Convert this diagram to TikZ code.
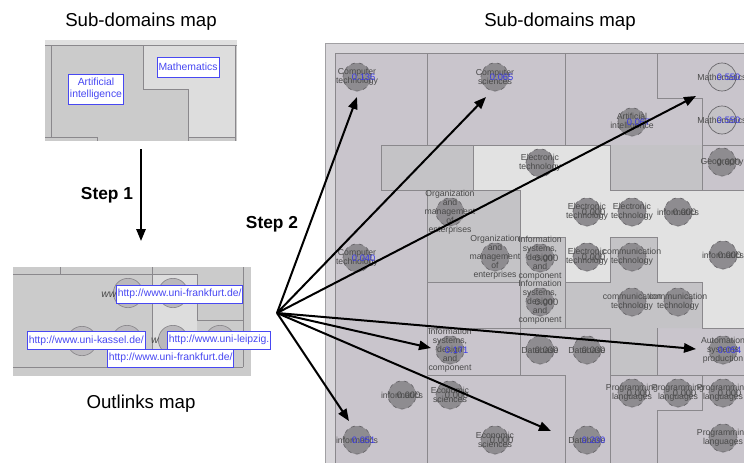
\documentclass[tikz,border=0pt]{standalone}
\usepackage{fontspec}
\setmainfont{Liberation Sans}
\usetikzlibrary{arrows.meta}
\definecolor{mapbg}{HTML}{C9C5CC}
\definecolor{mapframe}{HTML}{D8D6DA}
\definecolor{maplight}{HTML}{E2E2E2}
\definecolor{mapmed}{HTML}{C4C3C6}
\definecolor{regline}{HTML}{8A888C}
\definecolor{dotfill}{HTML}{8E8C90}
\definecolor{dotedge}{HTML}{666468}
\definecolor{ldotfill}{HTML}{C4C2C6}
\definecolor{labgray}{HTML}{4A4A4A}
\definecolor{numblue}{HTML}{3A3AE6}
\definecolor{smallbg}{HTML}{CBCBCB}
\definecolor{smalllight}{HTML}{DDDDDD}
\definecolor{urlblue}{HTML}{4848F2}
\tikzset{
  ttl/.style={font=\fontsize{14}{16}\selectfont},
  steplbl/.style={font=\bfseries\fontsize{13}{15}\selectfont},
  regl/.style={draw=regline,line width=0.7pt},
  dot/.style={circle,fill=dotfill,draw=dotedge,dashed,line width=0.5pt,minimum size=21pt,inner sep=0pt},
  ldot/.style={circle,fill=ldotfill,draw=dotedge,line width=0.5pt,minimum size=21pt,inner sep=0pt},
  fdot/.style={circle,fill=ldotfill!85!gray,draw=regline,line width=0.5pt,minimum size=22pt,inner sep=0pt},
  lbl/.style={font=\fontsize{6.5}{6.8}\selectfont,text=labgray,align=center,inner sep=0pt},
  num/.style={font=\fontsize{7}{8}\selectfont,inner sep=0pt,xshift=5pt,yshift=-0.5pt},
  urlbox/.style={fill=white,draw=urlblue,line width=0.7pt,text=urlblue,font=\fontsize{7.8}{9}\selectfont,inner xsep=1pt,inner ysep=0pt,minimum height=13.5pt,anchor=west},
  catbox/.style={fill=white,draw=urlblue,line width=0.7pt,text=urlblue,font=\fontsize{7.8}{8.6}\selectfont,align=center,inner sep=1pt},
  arr/.style={-{Triangle[length=9pt,width=7pt]},line width=1.5pt},
}
\newcommand\mdot[5]{\node[dot] (#1) at (#2) {};
  \node[lbl] (#1l) at (#2) {#3};
  \node[num,text=#5] (#1n) at (#2) {#4};}
\newcommand\mdotx[3]{\node[dot] (#1) at (#2) {};
  \node[lbl] (#1l) at (#2) {#3};}
\newcommand\ldotm[4]{\node[ldot] (#1) at (#2) {};
  \node[lbl] (#1l) at (#2) {#3};
  \node[num,text=numblue] (#1n) at (#2) {#4};}
\begin{document}
\begin{tikzpicture}[x=0.75pt,y=-0.75pt]
\useasboundingbox (0,0) rectangle (744,462);
\fill[white] (0,0) rectangle (744,462);

% ---------- titles ----------
\node[ttl] (t-left) at (141,22) {Sub-domains map};
\node[ttl] (t-right) at (560,22) {Sub-domains map};
\node[ttl] (t-out) at (141,404) {Outlinks map};
\node[steplbl] (s1) at (107,195) {Step 1};
\node[steplbl] (s2) at (272,224) {Step 2};

% ---------- small sub-domains map ----------
\fill[smallbg] (45,40) rectangle (237,141);
\fill[smalllight!90!white] (45,40) rectangle (237,45);
\fill[smalllight] (143,45) -- (235,45) -- (235,137) -- (188,137) -- (188,89) -- (143,89) -- cycle;
\draw[regl] (45,45) -- (237,45);
\draw[regl] (51,45) -- (51,137);
\draw[regl] (143,45) -- (143,89) -- (188,89) -- (188,141);
\draw[regl] (235,45) -- (235,141);
\draw[regl] (45,137) -- (97,137) -- (97,141);
\draw[regl] (188,137) -- (235,137);
\node[catbox,minimum width=40.5pt,minimum height=22.5pt] (ai) at (96,89) {Artificial\\intelligence};
\node[catbox,minimum width=46.5pt,minimum height=15pt] (ma) at (188,67) {Mathematics};

% ---------- step 1 ----------
\coordinate (s1a) at (141,149);
\coordinate (s1b) at (141,241);
\draw[arr] (s1a) -- (s1b);

% ---------- outlinks map ----------
\fill[smallbg] (13,267) rectangle (251,376);
\fill[smalllight] (152,274) rectangle (197,367);
\draw[regl] (60,267) -- (60,274);
\draw[regl] (13,274) -- (197,274) -- (197,320) -- (243,320);
\draw[regl] (152,267) -- (152,367);
\draw[regl] (243,267) -- (243,367);
\draw[regl] (13,367) -- (243,367);
\node[fdot] (b1) at (128,293) {};
\node[fdot] (b2) at (173,293) {};
\node[fdot] (b3) at (82,341) {};
\node[fdot] (b4) at (127,340) {};
\node[fdot] (b5) at (173,340) {};
\node[fdot] (b6) at (220,340) {};
\node[font=\itshape\fontsize{7.8}{9}\selectfont,text=labgray,inner sep=0pt] (w1) at (109,295) {ww};
\node[font=\itshape\fontsize{7.8}{9}\selectfont,text=labgray,inner sep=0pt] (w2) at (155,341) {w};
\node[urlbox] (u1) at (116,294) {http://www.uni-frankfurt.de/};
\node[urlbox] (u2) at (27,340.5) {http://www.uni-kassel.de/};
\node[urlbox] (u3) at (167,340) {http://www.uni-leipzig.};
\node[urlbox] (u4) at (107,358) {http://www.uni-frankfurt.de/};

% ---------- big sub-domains map ----------
\begin{scope}
\clip (325,43) rectangle (744,462);
\fill[mapframe] (325,43) rectangle (750,470);
\draw[draw=regline!80,line width=0.8pt] (325.5,43.5) rectangle (750,470);
\fill[mapbg] (335,53) rectangle (750,470);
\draw[regl] (335,53) rectangle (750,470);
% medium regions
\fill[mapmed] (381,145) rectangle (473,190);
\fill[mapmed] (427,190) rectangle (520,282);
\fill[mapmed] (520,237) rectangle (565,328);
\fill[mapmed] (610,145) rectangle (702,190);
\fill[mapmed] (565,282) -- (610,282) -- (610,237) -- (657,237) -- (657,282) -- (702,282) -- (702,328) -- (657,328) -- (657,375) -- (610,375) -- (610,328) -- (565,328) -- cycle;
% light region
\fill[maplight] (473,145) -- (610,145) -- (610,190) -- (750,190) -- (750,328) -- (702,328) -- (702,282) -- (657,282) -- (657,237) -- (610,237) -- (610,282) -- (565,282) -- (565,237) -- (520,237) -- (520,190) -- (473,190) -- cycle;
% region borders
\draw[regl] (427,53) -- (427,145);
\draw[regl] (565,53) -- (565,145);
\draw[regl] (657,53) -- (657,98) -- (702,98) -- (702,190);
\draw[regl] (381,145) -- (610,145);
\draw[regl] (381,145) -- (381,190) -- (520,190);
\draw[regl] (473,145) -- (473,190);
\draw[regl] (610,145) -- (610,190) -- (750,190);
\draw[regl] (702,145) -- (750,145);
\draw[regl] (427,190) -- (427,470);
\draw[regl] (520,190) -- (520,375);
\draw[regl] (427,282) -- (520,282);
\draw[regl] (520,237) -- (565,237) -- (565,328);
\draw[regl] (565,282) -- (610,282) -- (610,237) -- (657,237) -- (657,282) -- (702,282) -- (702,328) -- (750,328);
\draw[regl] (427,328) -- (610,328);
\draw[regl] (427,375) -- (565,375);
\draw[regl] (610,328) -- (610,470);
\draw[regl] (657,328) -- (657,375);
\draw[regl] (610,375) -- (750,375);
\draw[regl] (702,375) -- (702,410) -- (657,410) -- (657,470);
\draw[regl] (565,375) -- (565,470);
% nodes of the map
\mdot{d1}{357,77}{Computer\\technology}{0.136}{numblue}
\mdot{d2}{495,77}{Computer\\sciences}{0.065}{numblue}
\ldotm{d3}{722,77}{Mathematics}{0.550}
\ldotm{d4}{722,120}{Mathematics}{0.550}
\mdot{d5}{632,122}{Artificial\\intelligence}{0.067}{numblue}
\mdot{d6}{722,162}{Geography}{0.000}{labgray}
\mdotx{d7}{540,163}{Electronic\\technology}
\mdot{d8}{587,212}{Electronic\\technology}{0.000}{labgray}
\mdotx{d9}{632,212}{Electronic\\technology}
\mdot{d10}{678,212}{informatics}{0.000}{labgray}
\mdotx{d11}{450,212}{Organization\\and\\management\\of\\enterprises}
\mdot{d12}{357,258}{Computer\\technology}{0.040}{numblue}
\mdotx{d13}{495,257}{Organization\\and\\management\\of\\enterprises}
\mdot{d14}{540,258}{Information\\systems,\\design\\and\\component}{0.000}{labgray}
\mdot{d15}{587,257}{Electronic\\technology}{0.000}{labgray}
\mdotx{d16}{632,257}{communication\\technology}
\mdot{d17}{723,255}{informatics}{0.000}{labgray}
\mdot{d18}{540,302}{Information\\systems,\\design\\and\\component}{0.000}{labgray}
\mdotx{d19}{632,302}{communication\\technology}
\mdotx{d20}{678,302}{communication\\technology}
\mdot{d21}{450,350}{Information\\systems,\\design\\and\\component}{0.171}{numblue}
\mdot{d22}{540,350}{Database}{0.000}{labgray}
\mdot{d23}{587,350}{Database}{0.000}{labgray}
\mdot{d24}{723,350}{Automation\\systems\\production}{0.054}{numblue}
\mdot{d25}{402,395}{informatics}{0.000}{labgray}
\mdot{d26}{450,395}{Economic\\sciences}{0.000}{labgray}
\mdot{d27}{632,393}{Programming\\languages}{0.000}{labgray}
\mdot{d28}{678,393}{Programming\\languages}{0.000}{labgray}
\mdot{d29}{723,393}{Programming\\languages}{0.000}{labgray}
\mdot{d30}{357,440}{informatics}{0.051}{numblue}
\mdot{d31}{495,440}{Economic\\sciences}{0.000}{labgray}
\mdot{d32}{587,440}{Database}{0.200}{numblue}
\mdotx{d33}{723,438}{Programming\\languages}
\end{scope}

% ---------- step 2 arrows ----------
\coordinate (hub) at (277,313);
\coordinate (a1) at (357,97);
\coordinate (a2) at (486,97);
\coordinate (a3) at (696,96);
\coordinate (a4) at (431,348);
\coordinate (a5) at (696,349);
\coordinate (a6) at (551,431);
\coordinate (a7) at (349,421);
\foreach \t in {a1,a2,a3,a4,a5,a6,a7} \draw[arr] (hub) -- (\t);
\end{tikzpicture}
\end{document}
